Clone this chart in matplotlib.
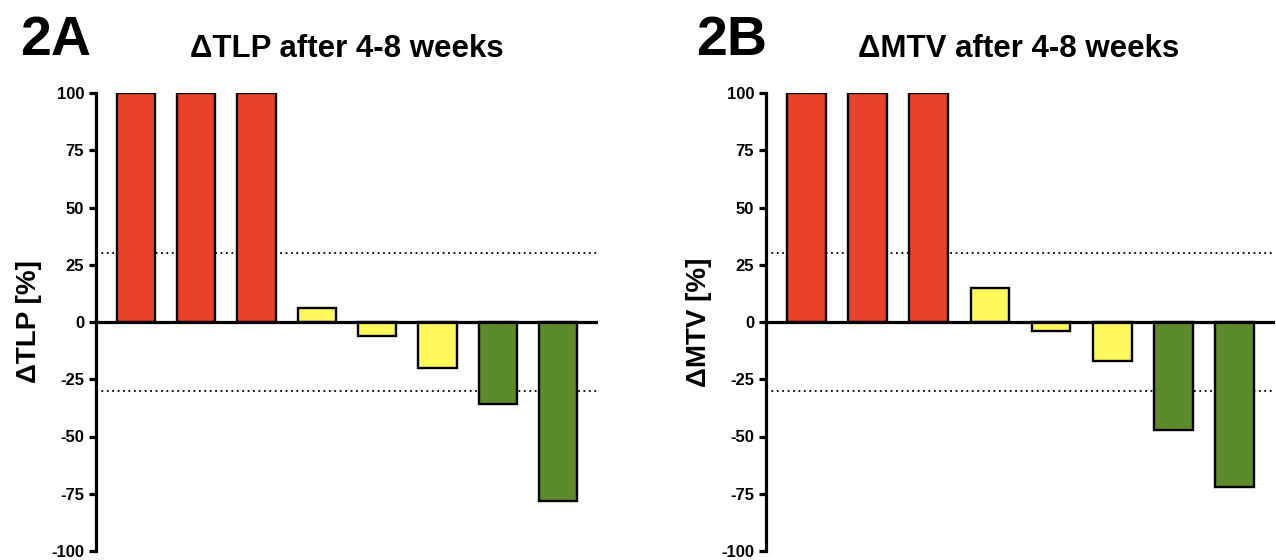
import matplotlib
matplotlib.use("Agg")
import matplotlib.pyplot as plt
import numpy as np

# Per-patient change after 4-8 weeks (values above 100 % are cut at the axis top)
patients = ["P1", "P2", "P3", "P4", "P5", "P6", "P7", "P8"]
delta_tlp = [100, 100, 100, 6, -6, -20, -36, -78]
delta_mtv = [100, 100, 100, 15, -4, -17, -47, -72]
response = ["progression", "progression", "progression",
            "stable", "stable", "stable", "partial", "partial"]
y_ticks = [-100, -75, -50, -25, 0, 25, 50, 75, 100]
threshold = 30

colors = {"progression": "#E9432A", "stable": "#FFF85C", "partial": "#5E8B2A"}

FONT = ["Liberation Sans", "DejaVu Sans"]

W, H = 1276, 560
fig = plt.figure(figsize=(W / 100, H / 100), dpi=100)

panels = [
    dict(values=delta_tlp, left=96, right=598, letter="2A", letter_x=20,
         title="\u0394TLP after 4-8 weeks", title_x=347,
         ylabel="\u0394TLP [%]"),
    dict(values=delta_mtv, left=766, right=1275, letter="2B", letter_x=696,
         title="\u0394MTV after 4-8 weeks", title_x=1019,
         ylabel="\u0394MTV [%]"),
]

top_px, bottom_px = 93, 551
for p in panels:
    width_px = p["right"] - p["left"]
    ax = fig.add_axes([p["left"] / W, (H - bottom_px) / H,
                       width_px / W, (bottom_px - top_px) / H])
    x = np.arange(len(patients))
    ax.bar(x, p["values"], width=0.63,
           color=[colors[r] for r in response],
           edgecolor="black", linewidth=1.7, zorder=2)
    for yv in (threshold, -threshold):
        ax.axhline(yv, color="black", linestyle=(0, (1, 2)), linewidth=1.3, zorder=1)
    ax.axhline(0, color="black", linewidth=2.3, zorder=3)

    ax.set_xlim(-0.66, len(patients) - 1 + 0.66)
    ax.set_ylim(-100, 100)
    ax.set_yticks(y_ticks)
    ax.set_yticklabels([str(t) for t in y_ticks],
                       fontdict=dict(family=FONT, weight="bold", size=12))
    ax.set_xticks([])
    for s in ("top", "right", "bottom"):
        ax.spines[s].set_visible(False)
    ax.spines["left"].set_linewidth(2.3)
    ax.tick_params(axis="y", direction="out", length=5, width=2.3, pad=3.5)
    ax.set_ylabel(p["ylabel"], family=FONT, weight="bold", fontsize=20)
    ax.yaxis.set_label_coords(-54 / width_px, 0.5)
    ax.patch.set_alpha(0)

    fig.text(p["letter_x"] / W, 1 - 55 / H, p["letter"], family=FONT,
             weight="bold", fontsize=40, va="baseline", ha="left")
    fig.text(p["title_x"] / W, 1 - 57 / H, p["title"], family=FONT,
             weight="bold", fontsize=22.5, va="baseline", ha="center")

fig.savefig("out.png", dpi=100, facecolor="white")
